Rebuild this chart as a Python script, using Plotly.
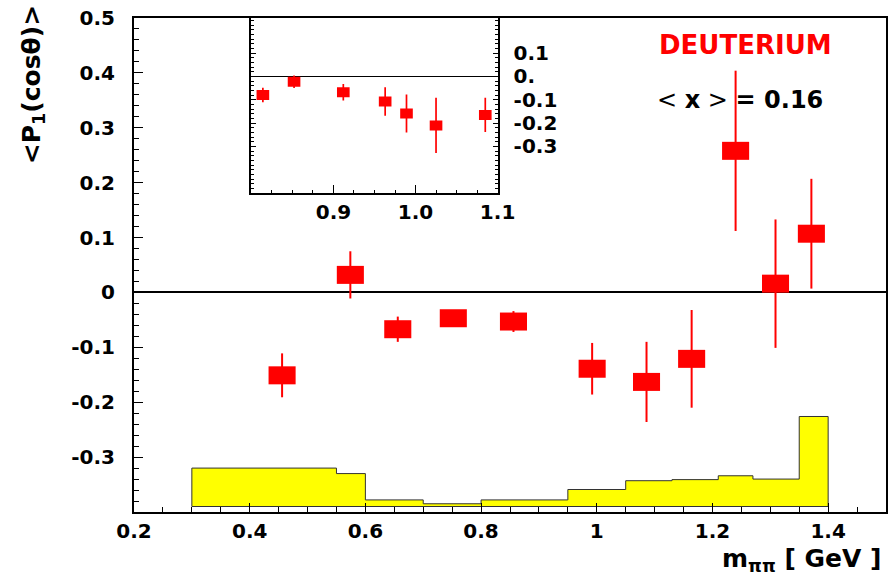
import plotly.graph_objects as go

# ---------------- data ----------------
# main panel: <P1(cos theta)> vs m_pipi
m_pipi = [0.456, 0.574, 0.656, 0.752, 0.856, 0.992, 1.086, 1.164, 1.240, 1.309, 1.371]
p1 = [-0.151, 0.032, -0.067, -0.047, -0.053, -0.139, -0.163, -0.121, 0.258, 0.016, 0.107]
p1_err = [0.040, 0.043, 0.023, 0.006, 0.019, 0.047, 0.073, 0.089, 0.146, 0.117, 0.100]

# inset panel: fine binning around 0.8 - 1.1 GeV
m_inset = [0.814, 0.852, 0.912, 0.963, 0.989, 1.025, 1.085]
p1_inset = [-0.080, -0.023, -0.068, -0.108, -0.159, -0.210, -0.165]
p1_inset_err = [0.031, 0.027, 0.035, 0.061, 0.081, 0.118, 0.073]

# systematic-uncertainty band (histogram drawn from a base level)
sys_edges = [0.30, 0.55, 0.60, 0.70, 0.80, 0.95, 1.05, 1.13, 1.21, 1.27, 1.35, 1.40]
sys_heights = [0.070, 0.060, 0.012, 0.005, 0.012, 0.031, 0.047, 0.049, 0.056, 0.050, 0.164]
sys_base = -0.39

# tick labels
x_tick_vals = [0.2, 0.4, 0.6, 0.8, 1.0, 1.2, 1.4]
x_tick_text = ["0.2", "0.4", "0.6", "0.8", "1", "1.2", "1.4"]
y_tick_vals = [-0.3, -0.2, -0.1, 0.0, 0.1, 0.2, 0.3, 0.4, 0.5]
y_tick_text = ["-0.3", "-0.2", "-0.1", "0", "0.1", "0.2", "0.3", "0.4", "0.5"]
ix_tick_vals = [0.9, 1.0, 1.1]
ix_tick_text = ["0.9", "1.0", "1.1"]
iy_tick_vals = [-0.3, -0.2, -0.1, 0.0, 0.1]
iy_tick_text = ["-0.3", "-0.2", "-0.1", "0.", "0.1"]

# ---------------- styles ----------------
RED = "#ff0000"
FONT = "DejaVu Sans"
TICKFONT = dict(family=FONT, size=20, color="black", weight="bold")

# build the histogram outline from edges / heights
hx, hy = [sys_edges[0]], [sys_base]
for i, h in enumerate(sys_heights):
    top = sys_base + h
    hx += [sys_edges[i], sys_edges[i + 1]]
    hy += [top, top]
hx += [sys_edges[-1], sys_edges[0]]
hy += [sys_base, sys_base]

fig = go.Figure()

fig.add_trace(go.Scatter(
    x=hx, y=hy, mode="lines", fill="toself", fillcolor="#ffff00",
    line=dict(color="#333333", width=1), hoverinfo="skip", showlegend=False,
))

fig.add_trace(go.Scatter(
    x=m_pipi, y=p1, mode="markers",
    marker=dict(size=1, color="rgba(0,0,0,0)"),
    error_y=dict(type="data", array=p1_err, color=RED, thickness=2, width=0),
    error_x=dict(type="constant", value=0.0234, color=RED, thickness=18, width=0),
    showlegend=False,
))

fig.add_trace(go.Scatter(
    x=m_inset, y=p1_inset, mode="markers", xaxis="x2", yaxis="y2",
    marker=dict(size=1, color="rgba(0,0,0,0)"),
    error_y=dict(type="data", array=p1_inset_err, color=RED, thickness=1.7, width=0),
    error_x=dict(type="constant", value=0.0077, color=RED, thickness=10, width=0),
    showlegend=False,
))

axis_common = dict(showgrid=False, showline=True, linecolor="black", automargin=False,
                   tickcolor="black", ticks="inside", tickwidth=1)

fig.update_layout(
    width=895, height=582,
    margin=dict(l=134, r=9, t=18, b=70),
    paper_bgcolor="white", plot_bgcolor="white",
    showlegend=False,
    font=dict(family=FONT, color="black"),
    xaxis=dict(
        **axis_common, range=[0.2, 1.5], domain=[0, 1], linewidth=2, mirror=True,
        zeroline=False, ticklen=9, tickmode="array", tickvals=x_tick_vals,
        ticktext=x_tick_text, tickfont=TICKFONT, ticklabelstandoff=0,
        minor=dict(tickmode="linear", tick0=0.2, dtick=0.05, ticklen=5,
                   ticks="inside", tickcolor="black", showgrid=False),
    ),
    yaxis=dict(
        **axis_common, range=[-0.4, 0.5], domain=[0, 1], linewidth=2, mirror=True,
        zeroline=True, zerolinecolor="black", zerolinewidth=2,
        ticklen=9, tickmode="array", tickvals=y_tick_vals, ticktext=y_tick_text,
        tickfont=TICKFONT, ticklabelstandoff=13,
        minor=dict(tickmode="linear", tick0=0, dtick=0.02, ticklen=5,
                   ticks="inside", tickcolor="black", showgrid=False),
    ),
    xaxis2=dict(
        **axis_common, range=[0.8, 1.1], domain=[0.1561, 0.4835], anchor="y2",
        linewidth=2, mirror=True, zeroline=False, ticklen=8,
        tickmode="array", tickvals=ix_tick_vals, ticktext=ix_tick_text,
        tickfont=TICKFONT, ticklabelstandoff=0,
        minor=dict(tickmode="linear", tick0=0.8, dtick=0.025, ticklen=3,
                   ticks="inside", tickcolor="black", showgrid=False),
    ),
    yaxis2=dict(
        **axis_common, range=[-0.5, 0.25], domain=[0.6455, 1.0], anchor="x2",
        side="right", linewidth=2, mirror="ticks",
        zeroline=True, zerolinecolor="black", zerolinewidth=1,
        ticklen=5, tickmode="array", tickvals=iy_tick_vals, ticktext=iy_tick_text,
        tickfont=TICKFONT, ticklabelstandoff=10,
        minor=dict(tickmode="linear", tick0=0, dtick=0.02, ticklen=3,
                   ticks="inside", tickcolor="black", showgrid=False),
    ),
    annotations=[
        dict(text="DEUTERIUM", xref="paper", yref="paper", x=0.8125, y=0.946,
             xanchor="center", yanchor="middle", showarrow=False,
             font=dict(family=FONT, size=26, color=RED, weight="bold")),
        dict(text="&lt; <b>x</b> &gt; <b>= 0.16</b>", xref="paper", yref="paper",
             x=0.806, y=0.8345, xanchor="center", yanchor="middle", showarrow=False,
             font=dict(family=FONT, size=24, color="black")),
        dict(text="&lt;P<sub>1</sub>(cosθ)&gt;", xref="paper", yref="paper",
             x=-0.135, y=0.865, xanchor="center", yanchor="middle", textangle=-90,
             showarrow=False, font=dict(family=FONT, size=25, color="black", weight="bold")),
        dict(text="m<sub>ππ</sub> [ GeV ]", xref="paper", yref="paper",
             x=0.997, y=-0.097, xanchor="right", yanchor="middle", showarrow=False,
             font=dict(family=FONT, size=25, color="black", weight="bold")),
    ],
)

fig.write_html("out.html", config={"displayModeBar": False},
               post_script="document.body.style.margin='0px';")
